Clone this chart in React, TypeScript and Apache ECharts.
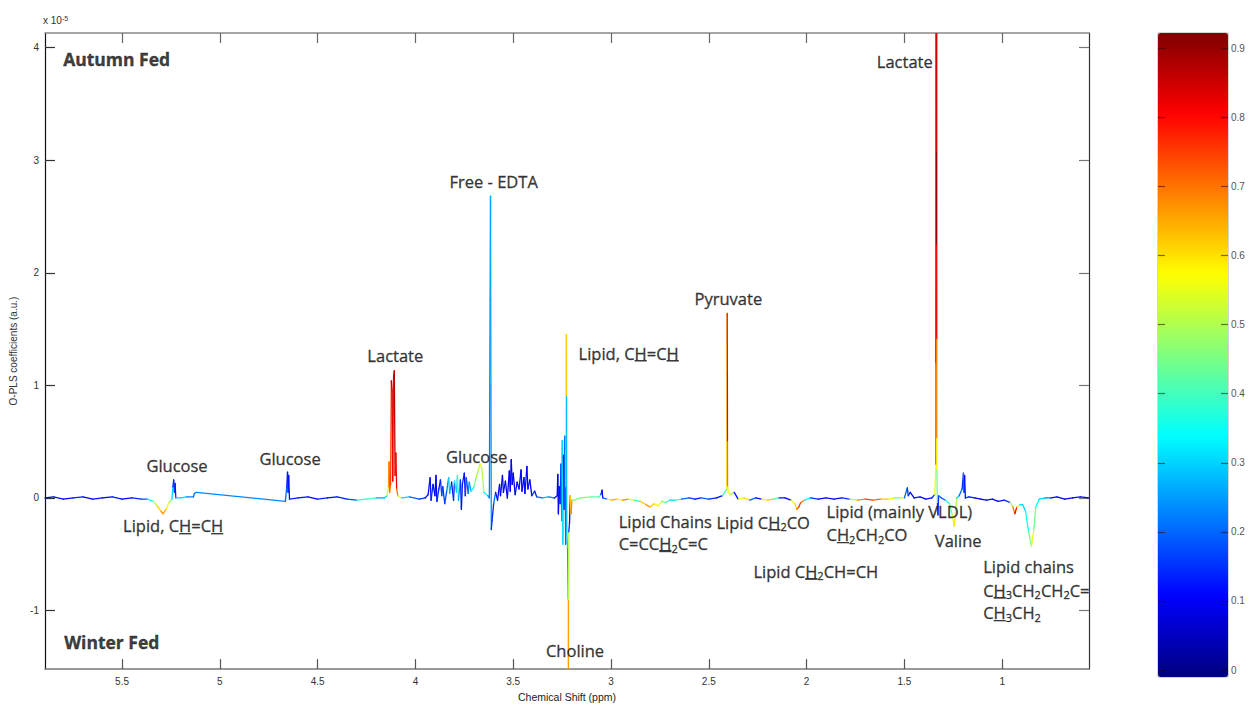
import React, { useEffect, useRef } from 'react';
import * as echarts from 'echarts';

const X_TICKS = [1, 1.5, 2, 2.5, 3, 3.5, 4, 4.5, 5, 5.5];
const Y_TICKS = [-1, 0, 1, 2, 3, 4];
const CBAR_TICKS = [0, 0.1, 0.2, 0.3, 0.4, 0.5, 0.6, 0.7, 0.8, 0.9];
const X_RANGE = [0.556, 5.894];
const Y_RANGE = [-1.52, 4.13];
const CBAR_RANGE = [-0.01, 0.922];
const JET = ['#00007f', '#0000ff', '#007fff', '#00ffff', '#7fff7f', '#ffff00', '#ff7f00', '#ff0000', '#7f0000'];

// [chemical shift ppm, O-PLS coefficient (x1e-5), correlation r^2]
const SPECTRUM: [number, number, number][] = [
  [5.894, 0.0, 0.1], [5.85, 0.01, 0.12], [5.8, -0.01, 0.1], [5.75, 0.0, 0.14], [5.7, 0.01, 0.1],
  [5.65, -0.01, 0.12], [5.6, 0.0, 0.09], [5.55, 0.01, 0.13], [5.5, -0.01, 0.1], [5.45, 0.0, 0.14],
  [5.4, -0.01, 0.18], [5.37, -0.01, 0.35], [5.34, -0.03, 0.5], [5.32, -0.07, 0.62], [5.3, -0.12, 0.68],
  [5.29, -0.14, 0.66], [5.275, -0.1, 0.58], [5.26, -0.04, 0.48], [5.245, -0.01, 0.3], [5.24, 0.1, 0.15],
  [5.236, 0.16, 0.14], [5.232, 0.05, 0.15], [5.229, 0.13, 0.13], [5.225, 0.0, 0.3], [5.2, 0.0, 0.3],
  [5.17, 0.01, 0.22], [5.135, 0.01, 0.2], [5.13, 0.04, 0.22], [5.12, 0.05, 0.23], [4.665, -0.03, 0.2],
  [4.658, 0.1, 0.15], [4.654, 0.23, 0.13], [4.651, 0.05, 0.14], [4.648, 0.2, 0.12], [4.644, -0.01, 0.14],
  [4.6, 0.0, 0.12], [4.55, 0.01, 0.1], [4.5, -0.01, 0.14], [4.45, 0.0, 0.11], [4.4, 0.01, 0.13],
  [4.35, -0.01, 0.18], [4.3, -0.02, 0.38], [4.25, -0.01, 0.4], [4.2, 0.0, 0.25], [4.16, 0.0, 0.3],
  [4.145, 0.02, 0.55], [4.138, 0.1, 0.65], [4.135, 0.32, 0.72], [4.132, 0.05, 0.7], [4.127, 0.12, 0.75],
  [4.123, 1.04, 0.86], [4.119, 0.95, 0.84], [4.116, 0.15, 0.8], [4.112, 1.07, 0.88], [4.108, 1.13, 0.86],
  [4.104, 0.2, 0.78], [4.1, 0.4, 0.82], [4.096, 0.08, 0.7], [4.09, 0.02, 0.55], [4.07, 0.0, 0.3],
  [4.03, 0.01, 0.2], [3.98, -0.01, 0.15], [3.95, 0.0, 0.12],
  [3.935, 0.03, 0.12], [3.925, 0.18, 0.12], [3.92, -0.02, 0.14], [3.91, 0.12, 0.1], [3.9, 0.02, 0.12],
  [3.895, 0.2, 0.11], [3.89, -0.03, 0.15], [3.88, 0.08, 0.12], [3.872, 0.16, 0.14], [3.865, 0.02, 0.2],
  [3.86, 0.1, 0.15], [3.85, -0.05, 0.18], [3.84, 0.06, 0.22], [3.83, 0.18, 0.3], [3.825, 0.04, 0.25],
  [3.815, 0.14, 0.12], [3.805, -0.02, 0.15], [3.8, 0.15, 0.35], [3.79, 0.05, 0.3], [3.785, 0.2, 0.4],
  [3.78, -0.02, 0.25], [3.77, 0.16, 0.15], [3.765, -0.1, 0.12], [3.76, 0.12, 0.14], [3.75, 0.22, 0.12],
  [3.745, 0.02, 0.15], [3.74, 0.18, 0.18], [3.73, 0.04, 0.22], [3.725, 0.14, 0.25], [3.715, 0.06, 0.35],
  [3.7, 0.1, 0.45], [3.69, 0.18, 0.5], [3.68, 0.24, 0.52], [3.67, 0.3, 0.55], [3.66, 0.26, 0.5],
  [3.65, 0.05, 0.35], [3.63, 0.02, 0.25],
  [3.622, 0.0, 0.22], [3.618, 1.76, 0.22], [3.616, 2.68, 0.26], [3.614, 1.0, 0.24], [3.612, -0.28, 0.15],
  [3.608, -0.2, 0.14], [3.6, -0.05, 0.2],
  [3.59, 0.05, 0.12], [3.58, -0.02, 0.1], [3.57, 0.12, 0.08], [3.565, 0.02, 0.1], [3.555, 0.2, 0.08],
  [3.55, 0.05, 0.12], [3.54, 0.15, 0.09], [3.53, 0.0, 0.1], [3.52, 0.24, 0.08], [3.515, 0.06, 0.1],
  [3.51, 0.34, 0.09], [3.505, 0.12, 0.1], [3.5, 0.22, 0.08], [3.49, 0.03, 0.12], [3.48, 0.14, 0.1],
  [3.47, 0.08, 0.12], [3.46, 0.25, 0.09], [3.455, 0.06, 0.1], [3.445, 0.18, 0.11], [3.44, 0.04, 0.12],
  [3.43, 0.28, 0.1], [3.425, 0.08, 0.12], [3.415, 0.16, 0.1], [3.405, 0.02, 0.15], [3.39, 0.06, 0.12],
  [3.38, 0.01, 0.2], [3.35, 0.0, 0.28], [3.32, 0.01, 0.22], [3.29, 0.0, 0.12],
  [3.275, 0.02, 0.1], [3.272, 0.21, 0.08], [3.269, -0.14, 0.1], [3.265, 0.1, 0.12], [3.26, -0.05, 0.14],
  [3.256, 0.3, 0.2], [3.252, -0.2, 0.25], [3.249, 0.51, 0.3], [3.246, -0.41, 0.32], [3.243, 0.38, 0.12],
  [3.24, -0.1, 0.15], [3.236, 0.55, 0.22], [3.232, -0.41, 0.2], [3.23, 0.1, 0.62], [3.228, 1.45, 0.62],
  [3.2272, 0.9, 0.28], [3.2262, -0.3, 0.3], [3.222, -0.45, 0.25], [3.219, -0.9, 0.58], [3.218, -1.6, 0.66],
  [3.2172, -0.9, 0.5], [3.216, -0.3, 0.15], [3.212, -0.22, 0.12], [3.208, 0.02, 0.62], [3.204, -0.14, 0.68],
  [3.2, -0.02, 0.45], [3.19, -0.02, 0.45], [3.155, 0.0, 0.45], [3.1, 0.01, 0.42], [3.06, 0.01, 0.4],
  [3.052, 0.03, 0.15], [3.046, 0.07, 0.1], [3.042, 0.0, 0.2], [3.02, -0.01, 0.55], [3.0, -0.02, 0.65],
  [2.97, -0.01, 0.58], [2.94, -0.02, 0.68], [2.91, -0.01, 0.55], [2.88, -0.02, 0.4], [2.85, -0.03, 0.62],
  [2.82, -0.06, 0.68], [2.8, -0.08, 0.62], [2.78, -0.05, 0.58], [2.76, -0.07, 0.55], [2.74, -0.03, 0.45],
  [2.72, -0.04, 0.4], [2.7, -0.02, 0.3], [2.67, -0.02, 0.4], [2.64, -0.01, 0.2], [2.6, 0.0, 0.15],
  [2.57, -0.01, 0.12], [2.54, 0.0, 0.2], [2.5, -0.01, 0.14], [2.46, 0.0, 0.12], [2.43, 0.02, 0.4],
  [2.408, 0.08, 0.6], [2.406, 1.64, 0.8], [2.405, 1.1, 0.82], [2.4045, 0.5, 0.7], [2.404, 0.1, 0.58],
  [2.4, 0.05, 0.55], [2.39, 0.03, 0.5], [2.37, 0.05, 0.12], [2.35, -0.01, 0.55], [2.32, 0.0, 0.6],
  [2.29, -0.02, 0.2], [2.26, 0.0, 0.12], [2.23, -0.01, 0.58], [2.2, -0.02, 0.62], [2.17, -0.01, 0.4],
  [2.14, 0.0, 0.12], [2.11, 0.0, 0.1], [2.08, -0.02, 0.55], [2.06, -0.05, 0.6], [2.05, -0.1, 0.72],
  [2.04, -0.08, 0.76], [2.03, -0.04, 0.7], [2.01, -0.02, 0.35], [1.98, 0.0, 0.15], [1.94, -0.01, 0.1],
  [1.9, 0.0, 0.12], [1.86, -0.01, 0.1], [1.82, 0.0, 0.15], [1.78, -0.01, 0.5], [1.74, -0.02, 0.68],
  [1.7, -0.01, 0.74], [1.66, -0.02, 0.7], [1.62, -0.01, 0.62], [1.58, -0.01, 0.55], [1.55, 0.0, 0.45],
  [1.52, 0.0, 0.55], [1.5, 0.0, 0.2], [1.485, 0.09, 0.15], [1.48, 0.02, 0.14], [1.47, 0.05, 0.1],
  [1.45, 0.0, 0.12], [1.42, 0.01, 0.1], [1.39, -0.01, 0.12], [1.36, 0.0, 0.15],
  [1.345, 0.03, 0.55], [1.3385, 0.3, 0.78], [1.338, 4.5, 0.78], [1.3372, 1.2, 0.8], [1.3352, 4.5, 0.84],
  [1.3348, 3.07, 0.9], [1.3346, 2.25, 0.8], [1.3344, 1.41, 0.68], [1.3342, 0.53, 0.58], [1.334, 0.25, 0.45],
  [1.331, -0.05, 0.15], [1.328, -0.15, 0.15], [1.325, 0.02, 0.2], [1.31, 0.0, 0.18], [1.29, -0.02, 0.35],
  [1.27, -0.05, 0.45], [1.255, -0.15, 0.55], [1.245, -0.25, 0.6], [1.238, -0.12, 0.5], [1.232, 0.0, 0.3],
  [1.22, 0.02, 0.2], [1.205, 0.08, 0.15], [1.198, 0.22, 0.2], [1.195, 0.05, 0.15], [1.192, 0.2, 0.12],
  [1.188, 0.0, 0.15], [1.17, 0.01, 0.12], [1.14, 0.0, 0.08], [1.11, -0.01, 0.1], [1.08, -0.02, 0.12],
  [1.05, -0.01, 0.08], [1.02, -0.03, 0.12], [0.99, -0.02, 0.15], [0.96, -0.04, 0.5], [0.945, -0.08, 0.7],
  [0.935, -0.14, 0.8], [0.925, -0.08, 0.55], [0.91, -0.06, 0.32], [0.895, -0.06, 0.3], [0.88, -0.12, 0.35],
  [0.865, -0.3, 0.45], [0.85, -0.43, 0.55], [0.838, -0.28, 0.45], [0.828, -0.08, 0.35], [0.81, -0.01, 0.3],
  [0.78, 0.0, 0.22], [0.75, 0.0, 0.12], [0.72, 0.01, 0.1], [0.68, -0.01, 0.08], [0.64, 0.0, 0.1],
  [0.6, 0.01, 0.08], [0.556, 0.0, 0.1],
];

// [ppm, value, text, anchor, bold]
const ANNOTATIONS: [number, number, string, 'left' | 'center', boolean][] = [
  [5.801, 3.9, 'Autumn Fed', 'left', true],
  [5.796, -1.283, 'Winter Fed', 'left', true],
  [5.219, 0.287, 'Glucose', 'center', false],
  [5.495, -0.248, 'Lipid, C{u|H}=C{u|H}', 'left', false],
  [4.641, 0.348, 'Glucose', 'center', false],
  [4.103, 1.269, 'Lactate', 'center', false],
  [3.687, 0.366, 'Glucose', 'center', false],
  [3.6, 2.813, 'Free - EDTA', 'center', false],
  [3.166, 1.287, 'Lipid, C{u|H}=C{u|H}', 'left', false],
  [3.184, -1.353, 'Choline', 'center', false],
  [2.4, 1.769, 'Pyruvate', 'center', false],
  [2.961, -0.205, 'Lipid Chains', 'left', false],
  [2.961, -0.406, 'C=CC{u|H}{s|2}C=C', 'left', false],
  [2.461, -0.214, 'Lipid C{u|H}{s|2}CO', 'left', false],
  [1.898, -0.117, 'Lipid (mainly VLDL)', 'left', false],
  [1.898, -0.327, 'C{u|H}{s|2}CH{s|2}CO', 'left', false],
  [2.272, -0.652, 'Lipid C{u|H}{s|2}CH=CH', 'left', false],
  [1.225, -0.38, 'Valine', 'center', false],
  [1.498, 3.874, 'Lactate', 'center', false],
  [1.097, -0.608, 'Lipid chains', 'left', false],
  [1.097, -0.819, 'C{u|H}{s|3}CH{s|2}CH{s|2}C=', 'left', false],
  [1.097, -1.02, 'C{u|H}{s|3}CH{s|2}', 'left', false],
];

const FONT = 'Open Sans';
const TXT = '#0a0a0a';
const AXFONT = 'Liberation Sans';

export default function App() {
  const ref = useRef<HTMLDivElement>(null);
  useEffect(() => {
    document.body.style.margin = '0';
    const chart = echarts.init(ref.current!, null, { renderer: 'svg' });
    const segments = SPECTRUM.slice(1).map((p, i) => [SPECTRUM[i][0], SPECTRUM[i][1], p[0], p[1], SPECTRUM[i][2]]);
    const underline = new echarts.graphic.LinearGradient(0, 0, 0, 1, [
      { offset: 0, color: 'rgba(10,10,10,0)' },
      { offset: 0.9, color: 'rgba(10,10,10,0)' },
      { offset: 0.9, color: TXT },
      { offset: 1, color: TXT },
    ]);
    const stroke = { textBorderColor: TXT, textBorderWidth: 0.35 };
    const annData = ANNOTATIONS.map(([x, y, text, anchor, bold]) => ({
      value: [x, y],
      label: {
        formatter: text,
        align: anchor,
        fontWeight: bold ? 'bold' : 'normal',
        fontSize: bold ? 17.5 : 16.5,
      },
    }));
    const tickAxisCommon = {
      type: 'value',
      splitLine: { show: false },
    };
    chart.setOption({
      animation: false,
      backgroundColor: '#ffffff',
      grid: [
        { left: 44, top: 33, width: 1045, height: 644, show: false },
        { left: 1158, top: 33, width: 70, height: 644, show: true, borderColor: '#aaaaaa', borderWidth: 1, backgroundColor: 'transparent' },
      ],
      xAxis: [
        {
          ...tickAxisCommon, gridIndex: 0, inverse: true, min: X_RANGE[0], max: X_RANGE[1], position: 'bottom',
          name: 'Chemical Shift (ppm)', nameLocation: 'middle', nameGap: 19,
          nameTextStyle: { fontSize: 10.5, color: '#222', fontFamily: AXFONT },
          axisLine: { show: true, onZero: false, lineStyle: { color: '#777', width: 1.5 } },
          axisTick: { show: true, inside: true, length: 10, customValues: X_TICKS, lineStyle: { color: '#555', width: 1.2 } },
          axisLabel: { customValues: X_TICKS, margin: 7, fontSize: 10, color: '#333', fontFamily: AXFONT },
        },
        {
          ...tickAxisCommon, gridIndex: 0, inverse: true, min: X_RANGE[0], max: X_RANGE[1], position: 'top',
          axisLine: { show: true, onZero: false, lineStyle: { color: '#888', width: 1.5 } },
          axisTick: { show: true, inside: true, length: 10, customValues: X_TICKS, lineStyle: { color: '#666', width: 1.2 } },
          axisLabel: { show: false },
        },
        { ...tickAxisCommon, gridIndex: 1, min: 0, max: 1, show: false },
      ],
      yAxis: [
        {
          ...tickAxisCommon, gridIndex: 0, min: Y_RANGE[0], max: Y_RANGE[1], position: 'left',
          name: 'O-PLS coefficients (a.u.)', nameLocation: 'middle', nameGap: 27, nameRotate: 90,
          nameTextStyle: { fontSize: 10, color: '#333', fontFamily: AXFONT },
          axisLine: { show: true, onZero: false, lineStyle: { color: '#111', width: 1.2 } },
          axisTick: { show: true, inside: true, length: 10, customValues: Y_TICKS, lineStyle: { color: '#333', width: 1.2 } },
          axisLabel: { customValues: Y_TICKS, margin: 6, fontSize: 10, color: '#333', fontFamily: AXFONT },
        },
        {
          ...tickAxisCommon, gridIndex: 0, min: Y_RANGE[0], max: Y_RANGE[1], position: 'right',
          axisLine: { show: true, onZero: false, lineStyle: { color: '#333', width: 1.2 } },
          axisTick: { show: true, inside: true, length: 10, customValues: Y_TICKS, lineStyle: { color: '#777', width: 1.2 } },
          axisLabel: { show: false },
        },
        {
          ...tickAxisCommon, gridIndex: 1, min: CBAR_RANGE[0], max: CBAR_RANGE[1], position: 'right', z: 10,
          axisLine: { show: false, onZero: false },
          axisTick: { show: true, inside: true, length: 7, customValues: CBAR_TICKS, lineStyle: { color: 'rgba(40,0,0,0.55)', width: 1.2 } },
          axisLabel: { customValues: CBAR_TICKS, margin: 3, fontSize: 10, color: '#555', fontFamily: AXFONT },
        },
        {
          ...tickAxisCommon, gridIndex: 1, min: CBAR_RANGE[0], max: CBAR_RANGE[1], position: 'left', z: 10,
          axisLine: { show: false, onZero: false },
          axisTick: { show: true, inside: true, length: 7, customValues: CBAR_TICKS, lineStyle: { color: 'rgba(40,0,0,0.55)', width: 1.2 } },
          axisLabel: { show: false },
        },
      ],
      visualMap: {
        type: 'continuous', seriesIndex: 0, dimension: 4,
        min: CBAR_RANGE[0], max: CBAR_RANGE[1],
        inRange: { color: JET },
        orient: 'vertical', left: 1158, top: 33, itemWidth: 70, itemHeight: 644,
        padding: 0, calculable: false, hoverLink: false, text: null, showLabel: false,
      },
      graphic: [
        {
          type: 'text', x: 43, y: 20,
          style: {
            text: 'x 10{sup|-5}', fontSize: 10, fontFamily: AXFONT, fill: '#333', verticalAlign: 'middle',
            rich: { sup: { fontSize: 7, fontFamily: AXFONT, fill: '#333', verticalAlign: 'top' } },
          },
        },
      ],
      series: [
        {
          type: 'custom',
          xAxisIndex: 0, yAxisIndex: 0,
          clip: true,
          dimensions: ['x1', 'y1', 'x2', 'y2', 'r'],
          encode: { x: ['x1', 'x2'], y: ['y1', 'y2'] },
          data: segments,
          renderItem: (params: any, api: any) => {
            const a = api.coord([api.value(0), api.value(1)]);
            const b = api.coord([api.value(2), api.value(3)]);
            return {
              type: 'line',
              shape: { x1: a[0], y1: a[1], x2: b[0], y2: b[1] },
              style: { stroke: api.visual('color'), lineWidth: 1.3, lineCap: 'round' },
            };
          },
          silent: true,
        },
        {
          type: 'scatter', xAxisIndex: 0, yAxisIndex: 0, symbolSize: 0, silent: true, z: 5,
          data: annData,
          label: {
            show: true, position: 'inside', color: TXT, fontFamily: FONT, fontSize: 16.5, lineHeight: 20,
            verticalAlign: 'middle', ...stroke,
            rich: {
              u: { color: TXT, fontFamily: FONT, fontSize: 16.5, lineHeight: 18, backgroundColor: underline, ...stroke },
              s: { color: TXT, fontFamily: FONT, fontSize: 11, lineHeight: 12, verticalAlign: 'bottom', ...stroke },
            },
          },
        },
        { type: 'line', xAxisIndex: 2, yAxisIndex: 2, data: [] },
      ],
    });
    return () => chart.dispose();
  }, []);
  return <div ref={ref} style={{ width: 1252, height: 707 }} />;
}
